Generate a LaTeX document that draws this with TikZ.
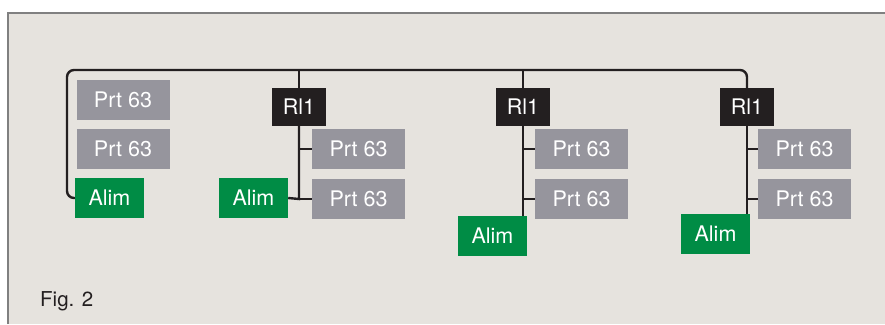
\documentclass[tikz,border=0pt]{standalone}
\usepackage{fontspec}
\setmainfont{TeX Gyre Heros}
\definecolor{bggrey}{RGB}{230,227,222}
\definecolor{framegrey}{RGB}{128,128,128}
\definecolor{prtgrey}{RGB}{150,149,157}
\definecolor{alimgreen}{RGB}{0,140,69}
\definecolor{rlblack}{RGB}{35,31,32}
\tikzset{
  box/.style={rectangle, inner sep=0pt, text=white, font=\fontsize{21.5}{26}\selectfont, minimum height=40pt},
  prt/.style={box, fill=prtgrey, minimum width=93pt},
  alim/.style={box, fill=alimgreen, minimum width=69pt},
  rl/.style={box, fill=rlblack, minimum width=54pt, minimum height=38pt},
  wire/.style={draw=rlblack, line width=2.4pt}
}
\begin{document}
\begin{tikzpicture}[x=1pt,y=-1pt]
\useasboundingbox (0,0) rectangle (885,324);
\fill[bggrey] (8,13) rectangle (885,324);
\draw[framegrey, line width=2pt] (8,324) -- (8,13) -- (885,13);
\node[anchor=base west, inner sep=0pt, text=rlblack, font=\fontsize{20.5}{24}\selectfont] (fig) at (40,306) {Fig. 2};

\node[prt] (prtA1) at (123,100) {Prt 63};
\node[prt] (prtA2) at (123,149) {Prt 63};
\node[alim] (alimA) at (109.5,198) {Alim};

\node[alim] (alimB) at (253.5,198) {Alim};
\node[rl] (rlA) at (299,107) {Rl1};
\node[prt] (prtB1) at (358.5,149) {Prt 63};
\node[prt] (prtB2) at (358.5,199) {Prt 63};

\node[rl] (rlB) at (523,107) {Rl1};
\node[prt] (prtC1) at (581.5,149) {Prt 63};
\node[prt] (prtC2) at (581.5,199) {Prt 63};
\node[alim] (alimC) at (492.5,236) {Alim};

\node[rl] (rlC) at (747,107) {Rl1};
\node[prt] (prtD1) at (804.5,149) {Prt 63};
\node[prt] (prtD2) at (804.5,199) {Prt 63};
\node[alim] (alimD) at (715.5,234) {Alim};

\coordinate (busL) at (67,70);
\coordinate (busR) at (rlC.north |- busL);
\draw[wire, rounded corners=7pt] (alimA.west) -| (busL) -- (busR) -- (rlC.north);
\draw[wire] (rlA.north |- busL) -- (rlA.north);
\draw[wire] (rlB.north |- busL) -- (rlB.north);

\draw[wire] (rlA.south) -- (rlA.south |- prtB2.west) -- (alimB.east);
\draw[wire] (rlA.south |- prtB1.west) -- (prtB1.west);
\draw[wire] (rlA.south |- prtB2.west) -- (prtB2.west);

\draw[wire] (rlB.south) -- (rlB.south |- alimC.north);
\draw[wire] (rlB.south |- prtC1.west) -- (prtC1.west);
\draw[wire] (rlB.south |- prtC2.west) -- (prtC2.west);

\draw[wire] (rlC.south) -- (rlC.south |- alimD.north);
\draw[wire] (rlC.south |- prtD1.west) -- (prtD1.west);
\draw[wire] (rlC.south |- prtD2.west) -- (prtD2.west);
\end{tikzpicture}
\end{document}
